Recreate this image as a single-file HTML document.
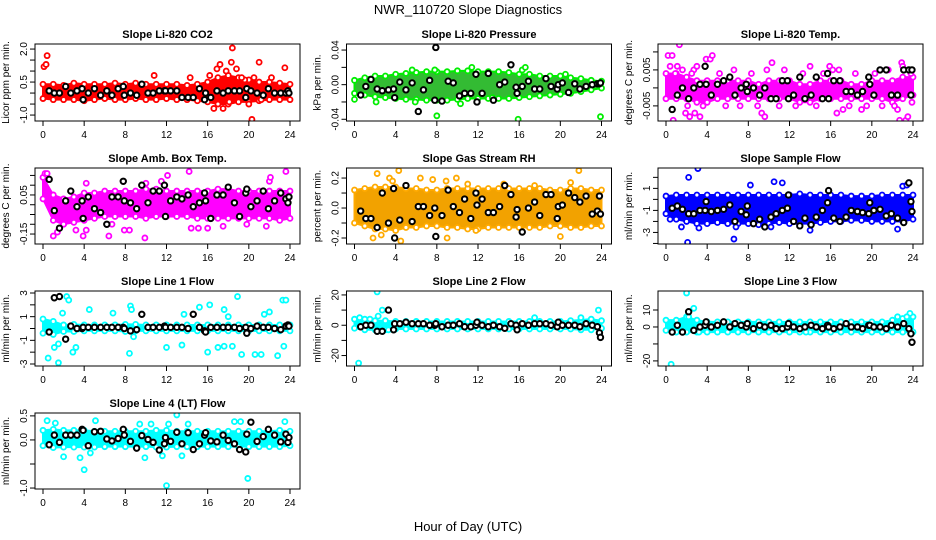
<!DOCTYPE html>
<html><head><meta charset="utf-8"><style>
html,body{margin:0;padding:0;background:#fff;}
svg{display:block;font-family:"Liberation Sans",Arial,sans-serif;}
</style></head><body>
<svg id="chart" width="936" height="540" viewBox="0 0 936 540">
<text x="468" y="14" text-anchor="middle" font-size="13">NWR_110720  Slope Diagnostics</text>
<text x="468" y="531" text-anchor="middle" font-size="13">Hour of Day (UTC)</text>
</svg>
<script>
const blackHours=[0.6,1.1,1.6,2.2,2.7,3.3,3.8,3.9,4.4,5.0,5.6,6.2,6.7,7.3,7.8,7.9,8.5,9.1,9.6,10.2,10.7,11.3,11.8,11.9,12.4,13.0,13.5,14.1,14.6,15.2,15.7,15.8,16.3,16.9,17.5,18.0,18.6,19.1,19.7,19.8,20.2,20.8,21.4,21.9,22.5,23.1,23.6,23.8,23.9];
const xTicks=[0,4,8,12,16,20,24];

const co2Hi=[0.4,0.4,0.35,0.45,0.4,0.4,0.4,0.45,0.4,0.45,0.4,0.4,0.4,0.4,0.35,0.4,0.5,0.7,0.8,0.7,0.6,0.5,0.5,0.45,0.4];
const co2Lo=[-0.25,-0.3,-0.3,-0.3,-0.35,-0.3,-0.25,-0.3,-0.3,-0.25,-0.3,-0.3,-0.25,-0.3,-0.3,-0.35,-0.4,-0.5,-0.5,-0.4,-0.4,-0.35,-0.3,-0.3,-0.3];
const co2Out=[[0.1,1.2],[0.3,1.3],[0.4,1.7],[10.8,0.8],[14.3,0.7],[16.6,-0.7],[17.2,1.3],[17.8,1.0],[18.4,2.05],[18.3,1.4],[18.8,1.1],[19.6,0.6],[20,-0.5],[20.3,-1.2],[21,1.4],[21.2,-0.3],[23.5,1.15],[17.5,-0.7],[16.9,1.1],[18.1,-0.4],[19.3,0.7],[16.2,0.8],[20.5,0.7],[22.2,0.7]];
const co2Black=[0.1,0,0,0.3,0,0.1,0.2,-0.3,0,0.2,-0.1,0.1,-0.1,0.2,0.3,-0.1,0,-0.1,0.4,0,0,0.1,0.1,0.1,0.1,0.1,-0.2,-0.2,-0.2,0.2,-0.3,0,-0.2,0.1,0,0.1,0.1,0.1,-0.2,0.2,0.1,0,-0.1,0.2,0,0,0,0.1,0];

const presHi=[0.005,0.008,0.01,0.01,0.012,0.013,0.014,0.015,0.015,0.015,0.016,0.016,0.015,0.015,0.015,0.014,0.012,0.012,0.01,0.01,0.01,0.008,0.007,0.005,0.004];
const presLo=[-0.01,-0.012,-0.014,-0.015,-0.016,-0.017,-0.017,-0.018,-0.018,-0.018,-0.017,-0.016,-0.016,-0.016,-0.016,-0.016,-0.015,-0.014,-0.013,-0.012,-0.011,-0.01,-0.008,-0.006,-0.004];
const presOut=[[0,-0.017],[5.6,0.017],[5.9,-0.02],[7.8,0.017],[8,-0.036],[10.3,-0.022],[11.4,0.02],[15.9,-0.04],[16.3,0.017],[16.6,0.02],[20.5,0.012],[23.9,-0.037],[2.1,-0.02],[13.4,-0.015]];
const presBlack=[-0.012,-0.002,0.006,-0.005,-0.007,-0.006,-0.005,-0.015,0.003,-0.006,0.002,-0.031,-0.006,0.005,-0.018,0.043,-0.019,0.004,0.002,-0.013,-0.01,-0.01,0.012,-0.02,-0.01,0.013,-0.018,0,0.003,0.023,-0.003,-0.01,-0.002,0.004,-0.005,-0.005,0.007,-0.002,-0.005,0,0.002,-0.009,0.001,-0.005,-0.002,0,0.001,0.001,0.002];

const tempHi=[0.004,0.004,0.003,0.002,0.002,0.002,0.002,0.002,0.002,0.001,0.002,0.002,0.002,0.001,0.001,0.002,0.002,0.002,0.001,0.001,0.002,0.002,0.002,0.003,0.003];
const tempLo=[-0.003,-0.003,-0.003,-0.004,-0.004,-0.003,-0.003,-0.003,-0.003,-0.003,-0.003,-0.003,-0.003,-0.004,-0.004,-0.003,-0.003,-0.003,-0.003,-0.003,-0.003,-0.003,-0.004,-0.003,-0.002];
const tempOut=[[0.2,0.009],[0.6,0.009],[1.3,0.012],[0.7,-0.009],[1.9,-0.007],[2.3,-0.008],[2.8,-0.007],[3.3,-0.008],[3.9,0.008],[4.3,0.008],[4.5,0.009],[9.3,-0.007],[9.6,-0.008],[10.3,0.007],[14,0.006],[15.9,0.006],[16.6,-0.007],[17.2,-0.006],[19,-0.006],[22.5,-0.006],[22.7,-0.009],[22.9,0.007],[23.3,-0.009],[23.5,-0.008],[1.1,0.006],[2.7,0.005],[0.4,0.006],[0.9,0.004],[1.6,0.005],[2.1,-0.005],[2.5,0.004],[3.0,0.006],[3.6,-0.005],[5.2,0.004],[5.8,-0.005],[6.6,0.005],[7.2,-0.005],[8.3,0.004],[8.9,-0.005],[9.8,0.005],[11.0,-0.005],[11.5,0.005],[12.6,-0.005],[13.3,0.004],[14.6,-0.005],[15.3,0.004],[16.2,0.005],[16.8,0.005],[17.8,-0.005],[18.4,0.004],[19.5,-0.005],[20.3,0.004],[21.0,-0.005],[21.6,0.005],[22.2,-0.005],[23.0,0.006],[23.8,0.004],[23.9,-0.004]];
const tempBlack=[-0.006,-0.002,0.000,-0.003,0.000,0.001,0.006,0.001,-0.002,0.001,0.002,0.003,-0.002,0.000,0.001,-0.001,0.000,-0.002,0.000,-0.003,-0.003,0.002,0.002,-0.003,-0.002,0.003,-0.003,-0.002,0.003,-0.003,0.004,-0.003,0.002,0.002,-0.001,-0.001,-0.002,-0.001,0.003,0.001,-0.002,0.005,0.005,-0.002,-0.002,0.005,0.005,-0.002,0.005];

const boxHi=[0.14,0.05,0.03,0.04,0.06,0.06,0.07,0.07,0.07,0.07,0.08,0.08,0.07,0.07,0.07,0.07,0.07,0.08,0.08,0.07,0.07,0.07,0.07,0.07,0.07];
const boxLo=[0.03,-0.08,-0.1,-0.09,-0.08,-0.07,-0.06,-0.06,-0.06,-0.06,-0.07,-0.06,-0.06,-0.06,-0.06,-0.07,-0.07,-0.07,-0.07,-0.07,-0.07,-0.07,-0.07,-0.08,-0.07];
const boxOut=[[0.2,0.16],[0.4,0.16],[1,-0.16],[1.4,-0.14],[2,-0.1],[3.2,-0.13],[3.9,-0.16],[4.2,-0.13],[4.2,0.11],[6.4,-0.16],[6.7,-0.1],[7.9,-0.13],[8.4,-0.13],[9.9,-0.17],[10,0.11],[11.5,0.12],[12.1,0.15],[14.2,0.17],[14.4,-0.12],[15.1,-0.12],[16,-0.12],[17.5,-0.11],[19.8,-0.1],[21.7,-0.11],[22,0.12],[22.1,0.14],[23.6,0.17]];
const boxBlack=[0.13,-0.03,-0.12,0.02,0.07,-0.01,0.02,-0.07,0.04,-0.02,-0.04,-0.1,0.04,0.04,0.12,0.02,0.01,-0.02,0.1,0.01,0.07,0.07,0.1,-0.06,0.02,0.04,0.03,0.05,-0.01,0.01,0.06,0.02,-0.07,0.05,0.05,0.09,0.01,-0.06,0.06,0.08,-0.01,0.02,0.07,-0.02,0.02,0.06,0.03,0.01,0.04];

const rhHi=[0.12,0.13,0.14,0.14,0.14,0.13,0.13,0.12,0.12,0.13,0.13,0.13,0.13,0.13,0.13,0.13,0.13,0.13,0.13,0.12,0.12,0.13,0.13,0.12,0.12];
const rhLo=[-0.1,-0.12,-0.14,-0.14,-0.15,-0.13,-0.13,-0.12,-0.12,-0.13,-0.13,-0.14,-0.14,-0.13,-0.13,-0.13,-0.13,-0.13,-0.13,-0.12,-0.12,-0.13,-0.13,-0.12,-0.12];
const rhOut=[[2.2,0.23],[1.8,-0.2],[2.6,-0.18],[3.4,0.2],[3.7,0.18],[4.3,0.25],[4.5,-0.22],[6.4,0.2],[7.6,0.19],[8.9,0.18],[9,-0.2],[9.9,0.2],[11,0.16],[11.8,-0.15],[14.5,0.16],[17.5,0.15],[20,-0.19],[21,0.17],[21.8,0.25]];
const rhBlack=[-0.02,-0.07,-0.07,-0.13,0.1,-0.1,0.13,-0.2,-0.08,0.15,-0.09,0.01,0.01,-0.05,0,-0.19,-0.05,0.12,0.01,-0.03,0.06,-0.07,0.1,0.02,0.06,-0.03,-0.03,0.01,0.15,0.09,-0.06,-0.01,-0.16,0,0.04,-0.05,0.09,0.09,-0.07,0.01,0.02,0.1,0.07,0.04,0.08,-0.04,-0.02,0.08,-0.04];

const sfHi=[0.3,0.4,0.4,0.4,0.4,0.4,0.4,0.4,0.4,0.4,0.4,0.4,0.4,0.5,0.4,0.4,0.4,0.4,0.3,0.3,0.3,0.4,0.4,0.4,0.4];
const sfLo=[-1.3,-1.8,-2,-2.2,-2.2,-2.1,-2.2,-2.2,-2.2,-2.3,-2.2,-2.1,-2.2,-2.2,-2.2,-2.1,-2,-2,-1.9,-1.9,-2,-2,-2,-2,-1.8];
const sfOut=[[2.1,-3.9],[2.2,2],[3.1,2.8],[6.6,-3.6],[8.2,1.3],[10.5,1.6],[11.3,1.5],[14,-2.8],[22.5,-2.7],[23,1.2],[23.4,1.3],[3.2,-2.6],[1.5,-2.5],[10.2,-2.5],[0.4,-1.8],[6.8,-2.5]];
const sfBlack=[-0.8,-0.6,-0.9,-1.3,-1.3,-1,-1.0,-0.2,-1.1,-1.0,-0.9,-0.5,-2.0,-1.1,-1.4,-0.6,-2.2,-1.8,-2.5,-1.6,-1.3,-1.0,-0.8,0.4,-2.0,-2.4,-1.7,-2.3,-1.6,-1.0,-0.3,0.8,-1.7,-2.0,-1.6,-1.0,-1.1,-1.2,-1.3,-0.3,-1.0,-0.9,-1.5,-1.3,-1.7,-2.1,1.5,-0.2,-1.1];

const l1Hi=[0.8,0.6,0.3,0.35,0.3,0.3,0.3,0.3,0.35,0.35,0.3,0.3,0.3,0.3,0.3,0.3,0.3,0.3,0.3,0.3,0.3,0.3,0.3,0.3,0.3];
const l1Lo=[-0.4,-0.5,-0.25,-0.25,-0.2,-0.2,-0.2,-0.2,-0.25,-0.2,-0.2,-0.2,-0.2,-0.2,-0.2,-0.2,-0.2,-0.2,-0.2,-0.2,-0.2,-0.2,-0.2,-0.2,-0.2];
const l1Out=[[0.5,-2.5],[1.1,-1.6],[1.5,-1.3],[1.5,-2.9],[2.3,2.7],[2.5,2.4],[1.9,1.3],[2.9,-2],[3.2,-1.6],[4.5,1.6],[6.8,1.3],[8.4,-2.1],[8.5,1.9],[8.6,1.6],[8.8,-0.7],[13.5,-1.4],[13.7,1.2],[15.2,1.8],[16,-2],[16.2,2],[17,-1.6],[17.6,1.6],[18,1],[18.9,2.7],[18.4,-1.5],[19.3,-2.2],[20.6,-2.2],[21.2,-2.2],[21.5,1.2],[22,1.4],[22.8,-2.3],[23.3,2.4],[23.6,2.4],[23.4,-1.5],[17.6,-1.5],[12,-1.6]];
const l1Black=[-0.3,2.6,2.7,-0.9,0.2,0,0,0.1,0.1,0.1,0.1,0.1,0.1,0.1,0.1,0,-0.2,-0.1,1.2,0.1,0.1,0.1,0.2,0.1,0.1,0.1,0.1,0,1.2,0.1,-0.2,-0.3,0.1,0.1,0.1,0.1,0.1,0,0.1,-0.4,0,0.2,0.1,0.1,0,-0.1,0.2,0.3,0.2];

const l2Hi=[4,4,3,3,2.5,2.5,2.5,2.5,2.5,2.5,2.5,2.5,2.5,2.5,2.5,2.5,2.5,2.5,2.5,2.5,2.5,3,3.5,4,3];
const l2Lo=[-2,-3,-3,-3,-2.5,-2.5,-2.5,-2.5,-2.5,-2.5,-2.5,-2.5,-2.5,-2.5,-2.5,-2.5,-2.5,-2.5,-2.5,-2.5,-2.5,-2.5,-3,-3,-2];
const l2Out=[[0.4,-25],[0.5,5],[1.5,4],[2.2,22],[2.3,6],[2.7,10],[17.5,5],[22,5],[23.7,10],[3.3,-3]];
const l2Black=[-1,0,0,-4,-4,10,-3,1,1,2,1,1,1,0,0,1,-1,0,0,1,-1,-1,0,2,0,-1,0,-1,-2,1,0,-3,1,0,1,1,1,0,-1,2,0,0,0,-1,1,0,-1,-5,-8];

const l3Hi=[4,4,6,4,3,3,3,3,3,3,3,3,3,3,3,3,3,3,3,3,3,3,4,5,6];
const l3Lo=[-2,-3,-3,-3,-3,-3,-3,-3,-3,-3,-3,-3,-3,-3,-3,-3,-3,-3,-3,-3,-3,-3,-3,-3,-3];
const l3Out=[[0.5,-22],[2,20],[2.2,6],[2.7,11],[3.2,-3],[13.6,-3],[22.5,6],[23.7,8],[23.4,6]];
const l3Black=[-3,1,-3,9,-2,0,1,3,0,1,3,0,2,1,0,2,-1,1,0,1,-1,-1,0,2,0,-1,0,1,0,-1,1,0,-1,0,2,0,0,-1,1,1,0,0,-1,1,0,2,-1,-4,-9];

const l4Hi=[0.2,0.22,0.2,0.2,0.2,0.18,0.18,0.18,0.18,0.18,0.18,0.2,0.2,0.18,0.18,0.18,0.18,0.18,0.18,0.18,0.18,0.18,0.18,0.2,0.18];
const l4Lo=[-0.12,-0.16,-0.15,-0.15,-0.15,-0.15,-0.14,-0.14,-0.14,-0.14,-0.14,-0.15,-0.15,-0.14,-0.14,-0.14,-0.14,-0.14,-0.14,-0.14,-0.14,-0.14,-0.14,-0.14,-0.12];
const l4Out=[[1.2,0.35],[0.4,0.4],[2,-0.35],[3.6,-0.37],[4,-0.62],[5.1,0.4],[4.6,-0.27],[9.4,0.33],[9.9,-0.37],[10.5,0.33],[11.6,-0.33],[12,-0.95],[12.2,0.33],[13,0.52],[13.5,-0.33],[14.1,0.33],[18.6,0.38],[19.2,0.38],[19.9,-0.8],[23.5,0.38]];
const l4Black=[-0.1,0.1,-0.05,0.1,0.1,0.1,0.22,0.2,-0.12,0.17,0.18,0.02,-0.02,0.03,0.22,0.1,-0.03,-0.17,0.09,0.01,-0.05,-0.21,-0.08,0.05,-0.03,0.16,-0.08,0.15,-0.2,-0.08,0.1,0.15,-0.02,-0.04,0.1,-0.01,-0.08,-0.2,-0.25,0.12,0.37,-0.03,0.07,0.22,0.1,-0.04,0.12,-0.05,0.05];

const panels=[
 {id:'co2',title:'Slope Li-820 CO2',ylab:'Licor ppm per min.',col:0,row:0,ymin:-1.27,ymax:2.23,ticks:[-1,-0.5,0,0.5,1,1.5,2],labels:{'-1':'-1.0','0.5':'0.5','2':'2.0'},color:'#ff0000',band:'#ff0000',hi:co2Hi,lo:co2Lo,out:co2Out,blk:co2Black},
 {id:'pressure',title:'Slope Li-820 Pressure',ylab:'kPa per min.',col:1,row:0,ymin:-0.042,ymax:0.047,ticks:[-0.04,-0.02,0,0.02,0.04],labels:{'-0.04':'-0.04','0':'0.00','0.04':'0.04'},color:'#00ee00',band:'#33bb33',hi:presHi,lo:presLo,out:presOut,blk:presBlack},
 {id:'temp',title:'Slope Li-820 Temp.',ylab:'degrees C per min.',col:2,row:0,ymin:-0.0092,ymax:0.0122,ticks:[-0.005,0,0.005,0.01],labels:{'-0.005':'-0.005','0.005':'0.005'},color:'#ff00ff',band:'#ff00ff',hi:tempHi,lo:tempLo,out:tempOut,blk:tempBlack},
 {id:'ambbox',title:'Slope Amb. Box Temp.',ylab:'degrees C per min.',col:0,row:1,ymin:-0.201,ymax:0.188,ticks:[-0.15,-0.1,-0.05,0,0.05,0.1,0.15],labels:{'-0.15':'-0.15','0.05':'0.05'},color:'#ff00ff',band:'#ff00ff',hi:boxHi,lo:boxLo,out:boxOut,blk:boxBlack},
 {id:'rh',title:'Slope Gas Stream RH',ylab:'percent per min.',col:1,row:1,ymin:-0.24,ymax:0.267,ticks:[-0.2,-0.1,0,0.1,0.2],labels:{'-0.2':'-0.2','0':'0.0','0.2':'0.2'},color:'#ffaa00',band:'#f2a200',hi:rhHi,lo:rhLo,out:rhOut,blk:rhBlack},
 {id:'sampleflow',title:'Slope Sample Flow',ylab:'ml/min per min.',col:2,row:1,ymin:-4.05,ymax:2.85,ticks:[-4,-3,-2,-1,0,1,2],labels:{'-3':'-3','-1':'-1','1':'1'},color:'#0000ff',band:'#0000ff',hi:sfHi,lo:sfLo,out:sfOut,blk:sfBlack},
 {id:'line1',title:'Slope Line 1 Flow',ylab:'ml/min per min.',col:0,row:2,ymin:-3.17,ymax:3.17,ticks:[-3,-2,-1,0,1,2,3],labels:{'-3':'-3','-1':'-1','1':'1','3':'3'},color:'#00ffff',band:'#00ffff',hi:l1Hi,lo:l1Lo,out:l1Out,blk:l1Black},
 {id:'line2',title:'Slope Line 2 Flow',ylab:'ml/min per min.',col:1,row:2,ymin:-26.9,ymax:22.6,ticks:[-20,-10,0,10,20],labels:{'-20':'-20','0':'0','20':'20'},color:'#00ffff',band:'#00ffff',hi:l2Hi,lo:l2Lo,out:l2Out,blk:l2Black},
 {id:'line3',title:'Slope Line 3 Flow',ylab:'ml/min per min.',col:2,row:2,ymin:-23,ymax:21.2,ticks:[-20,-10,0,10],labels:{'-20':'-20','0':'0','10':'10'},color:'#00ffff',band:'#00ffff',hi:l3Hi,lo:l3Lo,out:l3Out,blk:l3Black},
 {id:'line4',title:'Slope Line 4 (LT) Flow',ylab:'ml/min per min.',col:0,row:3,ymin:-1.02,ymax:0.56,ticks:[-1,-0.5,0,0.5],labels:{'-1':'-1.0','0':'0.0','0.5':'0.5'},color:'#00ffff',band:'#00ffff',hi:l4Hi,lo:l4Lo,out:l4Out,blk:l4Black}
];
const colLeft=[35,346.5,658], rowTop=[44,168,291,413], BW=265, BH=[77,76,75,76];
const NS='http://www.w3.org/2000/svg';
const svg=document.getElementById('chart');
function mk(tag,attrs,parent){const e=document.createElementNS(NS,tag);for(const k in attrs)e.setAttribute(k,attrs[k]);(parent||svg).appendChild(e);return e;}
panels.forEach(p=>{
 const L=colLeft[p.col],T=rowTop[p.row],H=BH[p.row],B=T+H,R=L+BW;
 const xs=h=>L+8+h*(247/24);
 const ys=v=>B-(v-p.ymin)/(p.ymax-p.ymin)*H;
 const g=mk('g',{});
 
 
 const cp=mk('clipPath',{id:'clip-'+p.id},g);mk('rect',{x:L,y:T,width:BW,height:H},cp);
 const t=mk('text',{x:L+BW/2,y:T-6,'text-anchor':'middle','font-size':'11','font-weight':'bold'},g);t.textContent=p.title;
 
 
 const yl=mk('text',{x:0,y:0,'text-anchor':'middle','font-size':'10',transform:`translate(${L-26},${T+H/2}) rotate(-90)`},g);yl.textContent=p.ylab;
 
 
 const plot=mk('g',{'clip-path':`url(#clip-${p.id})`},g);
 
 
 let pts=p.hi.map((v,i)=>xs(i)+','+ys(v));
 for(let i=p.lo.length-1;i>=0;i--)pts.push(xs(i)+','+ys(p.lo[i]));
 const band=mk('polygon',{points:pts.join(' '),fill:p.band,stroke:p.color,'stroke-width':2,'stroke-linejoin':'round'},plot);
 
 
 const colPts=[];
 p.hi.forEach((v,i)=>colPts.push([i,v]));p.lo.forEach((v,i)=>colPts.push([i,v]));p.out.forEach(q=>colPts.push(q));
 colPts.forEach(q=>{const c=mk('circle',{cx:xs(q[0]),cy:ys(q[1]),r:2.5,fill:'#fff',stroke:p.color,'stroke-width':1.8},plot);
  
  });
 const n=Math.min(blackHours.length,p.blk.length);
 for(let i=0;i<n;i++){const c=mk('circle',{cx:xs(blackHours[i]),cy:ys(p.blk[i]),r:2.7,fill:'#fff',stroke:'#000','stroke-width':2},plot);
  
  }
 const fr=mk('rect',{x:L,y:T,width:BW,height:H,fill:'none',stroke:'#000','stroke-width':1},g);
 
 
 const xa=mk('g',{},g);
 
 
 mk('line',{x1:xs(0),x2:xs(24),y1:B,y2:B,stroke:'#000'},xa);
 xTicks.forEach(h=>{mk('line',{x1:xs(h),x2:xs(h),y1:B,y2:B+5,stroke:'#000'},xa);
  const tl=mk('text',{x:xs(h),y:B+17,'text-anchor':'middle','font-size':'10'},xa);tl.textContent=h;
  
  });
 const ya=mk('g',{},g);
 
 
 mk('line',{x1:L,x2:L,y1:ys(p.ticks[0]),y2:ys(p.ticks[p.ticks.length-1]),stroke:'#000'},ya);
 p.ticks.forEach(v=>{mk('line',{x1:L-5,x2:L,y1:ys(v),y2:ys(v),stroke:'#000'},ya);
  const lab=p.labels[String(v)];
  if(lab!==undefined){const tl=mk('text',{x:0,y:0,'text-anchor':'middle','font-size':'10',transform:`translate(${L-8},${ys(v)}) rotate(-90)`},ya);tl.textContent=lab;
   
   }});
});
</script>
</body></html>
